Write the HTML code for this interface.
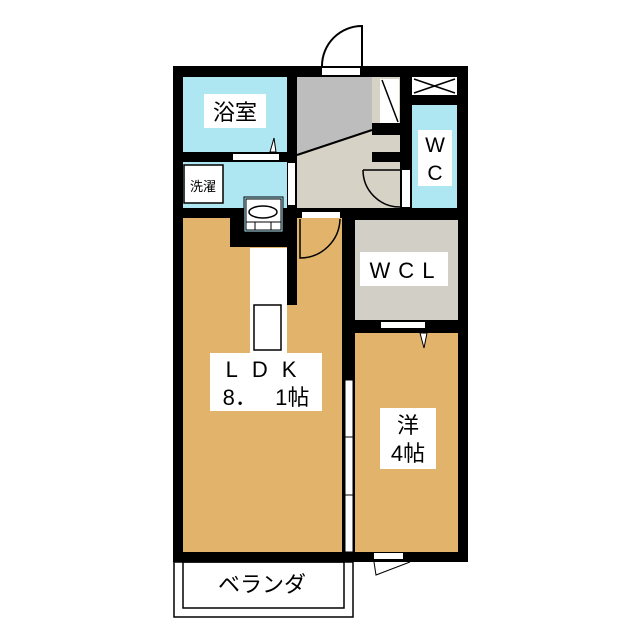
<!DOCTYPE html>
<html><head><meta charset="utf-8"><style>
body{margin:0;background:#fff}
svg{display:block}
text{font-family:"Liberation Sans","Noto Sans CJK JP",sans-serif}
</style></head><body>
<svg width="640" height="640" viewBox="0 0 640 640" xmlns="http://www.w3.org/2000/svg">
<rect width="640" height="640" fill="#fff"/>
<rect x="173" y="66" width="295" height="496" fill="#000"/>
<rect x="183" y="77" width="104" height="75" fill="#aee6f2"/>
<rect x="183" y="162" width="104" height="46" fill="#aee6f2"/>
<rect x="184" y="165" width="39" height="38" fill="#fff" stroke="#000" stroke-width="1.5"/>
<rect x="297" y="77" width="103" height="131" fill="#d6d2c6"/>
<polygon points="297,77 372,77 372,130 297,155" fill="#bdbdbd"/>
<line x1="297" y1="155" x2="372" y2="130" stroke="#000" stroke-width="2"/>
<rect x="380" y="79" width="19" height="44" fill="#fff"/>
<line x1="382" y1="80" x2="398" y2="122" stroke="#000" stroke-width="1.5"/>
<rect x="372" y="123" width="28" height="12" fill="#000"/>
<rect x="372" y="152" width="28" height="10" fill="#000"/>
<path d="M363,170 A37,37 0 0 0 400,207" fill="none" stroke="#000" stroke-width="1.5"/>
<line x1="363" y1="170" x2="400" y2="170" stroke="#000" stroke-width="1.5"/>
<rect x="402" y="170" width="8" height="37" fill="#fff"/>
<rect x="412" y="77" width="45" height="18" fill="#fff"/>
<line x1="414" y1="79" x2="455" y2="93" stroke="#000" stroke-width="1.5"/>
<line x1="455" y1="79" x2="414" y2="93" stroke="#000" stroke-width="1.5"/>
<rect x="412" y="105" width="45" height="103" fill="#aee6f2"/>
<rect x="288" y="163" width="7" height="42" fill="#fff"/>
<rect x="233" y="154" width="46" height="6" fill="#fff"/>
<polygon points="270,152 274,138 276,152" fill="#fff" stroke="#000" stroke-width="1"/>
<rect x="322" y="68" width="38" height="7" fill="#fff"/>
<path d="M322,66 A40,40 0 0 1 362,26 L362,66" fill="none" stroke="#000" stroke-width="2"/>
<path d="M183,218 L230,218 L230,247 L287,247 L287,305 L297,305 L297,218 L342,218 L342,552 L183,552 Z" fill="#e2b36b"/>
<rect x="244" y="197" width="39" height="35" fill="#aee6f2" stroke="#000" stroke-width="1"/>
<rect x="246" y="199" width="35" height="31" fill="#fff" stroke="#000" stroke-width="1"/>
<ellipse cx="263" cy="212" rx="14" ry="6" fill="#fff" stroke="#000" stroke-width="1.5"/>
<line x1="246" y1="222" x2="281" y2="222" stroke="#000" stroke-width="1"/>
<line x1="255" y1="222" x2="255" y2="230" stroke="#000" stroke-width="1"/>
<line x1="271" y1="222" x2="271" y2="230" stroke="#000" stroke-width="1"/>
<rect x="250" y="248" width="37" height="112" fill="#fff"/>
<rect x="254" y="305" width="27" height="45" fill="#fff" stroke="#000" stroke-width="1.5"/>
<rect x="302" y="212" width="38" height="6" fill="#fff"/>
<path d="M340,219 A40,40 0 0 1 300,258 L300,219" fill="none" stroke="#000" stroke-width="1.5"/>
<rect x="355" y="220" width="103" height="100" fill="#d2cfc6"/>
<rect x="355" y="333" width="103" height="219" fill="#e2b36b"/>
<rect x="381" y="322" width="44" height="6" fill="#fff"/>
<polygon points="420,333 424,348 427,333" fill="#fff" stroke="#000" stroke-width="1"/>
<rect x="345" y="380" width="8" height="172" fill="#fff" stroke="#000" stroke-width="1"/>
<line x1="343" y1="437" x2="355" y2="437" stroke="#000" stroke-width="1"/>
<line x1="343" y1="495" x2="355" y2="495" stroke="#000" stroke-width="1"/>
<rect x="374" y="553" width="29" height="6" fill="#fff"/>
<path d="M374,562 L376,575 L410,562" fill="#fff" stroke="#000" stroke-width="1"/>
<rect x="174" y="562" width="179" height="55" fill="none" stroke="#000" stroke-width="1.5"/>
<rect x="183" y="562" width="161" height="46" fill="none" stroke="#000" stroke-width="1.5"/>
<rect x="204" y="94" width="62" height="34" fill="#fff"/>
<text x="235" y="120" font-size="22" text-anchor="middle">浴室</text>
<text x="203" y="191" font-size="13" text-anchor="middle">洗濯</text>
<rect x="418" y="130" width="34" height="56" fill="#fff"/>
<text x="435" y="152" font-size="21" text-anchor="middle">W</text>
<text x="435" y="180" font-size="21" text-anchor="middle">C</text>
<rect x="360" y="252" width="88" height="34" fill="#fff"/>
<text x="406" y="278" font-size="22" text-anchor="middle" letter-spacing="8">WCL</text>
<rect x="210" y="353" width="112" height="58" fill="#fff"/>
<text x="268" y="377" font-size="22" text-anchor="middle" letter-spacing="14">LDK</text>
<text x="266" y="405" font-size="22" text-anchor="middle" xml:space="preserve">8．   1帖</text>
<rect x="380" y="408" width="56" height="61" fill="#fff"/>
<text x="408" y="433" font-size="22" text-anchor="middle">洋</text>
<text x="408" y="461" font-size="22" text-anchor="middle">4帖</text>
<text x="262" y="592" font-size="22" text-anchor="middle">ベランダ</text>
</svg>
</body></html>
